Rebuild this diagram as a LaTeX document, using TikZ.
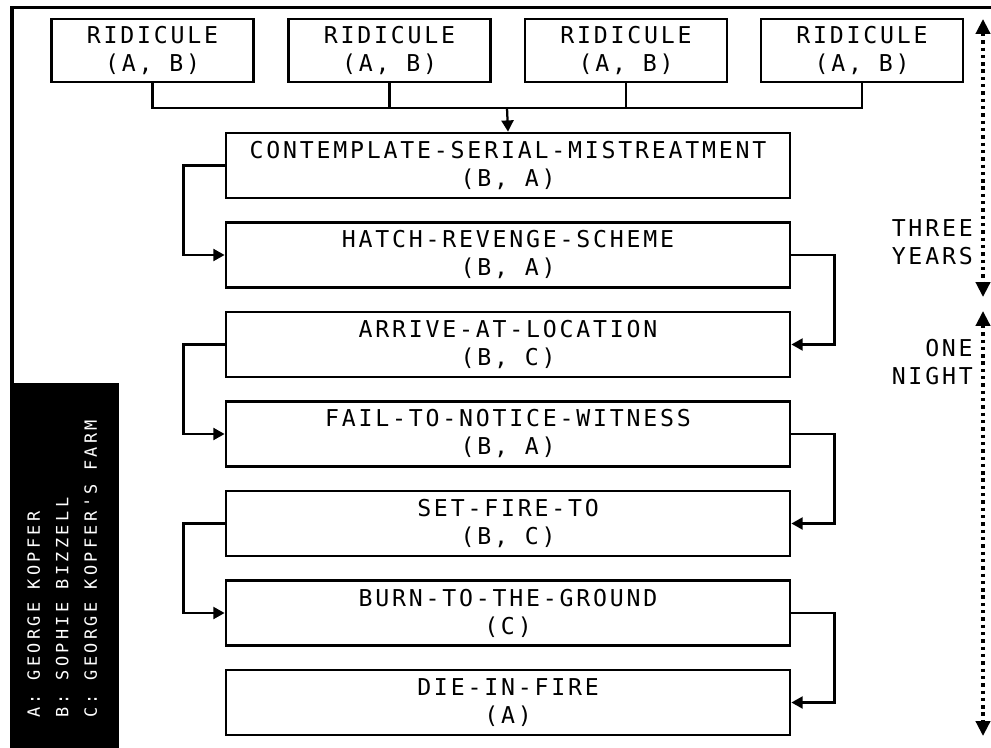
\documentclass[tikz,border=0pt]{standalone}
\usepackage{fontspec}
\newfontfamily\eventfont{DejaVu Sans Mono}[LetterSpace=12.0]
\newfontfamily\keyfont{DejaVu Sans Mono}[LetterSpace=20.0]
\usetikzlibrary{arrows.meta}

\tikzset{
  eventbox/.style={draw, line width=1.9pt, minimum width=14.1cm, minimum height=1.625cm,
    align=center, inner sep=0pt, font=\eventfont\fontsize{16.5}{19.9}\selectfont},
  ridiculebox/.style={eventbox, minimum width=5.05cm, minimum height=1.575cm},
  linkline/.style={line width=1.6pt},
  flowarrow/.style={linkline, -{Triangle[length=8pt,width=8.5pt]}},
  timespan/.style={line width=2.4pt, dash pattern=on 2.4pt off 2.8pt,
    {Triangle[length=10.5pt,width=10pt]}-{Triangle[length=10.5pt,width=10pt]}},
  spanlabel/.style={anchor=east, align=right, inner sep=0pt,
    font=\eventfont\fontsize{16.5}{19.9}\selectfont},
}

\begin{document}
\begin{tikzpicture}[x=0.025cm, y=-0.025cm]
  \useasboundingbox (0,0) rectangle (991,748);
  % frame and key
  \draw[line width=2.4pt] (991,7.5) -- (12,7.5) -- (12,383);
  \fill (10,383) rectangle (119,748);
  \node[rotate=90, anchor=north west, inner sep=0pt, align=left, text=white,
    font=\keyfont\fontsize{12}{20.3}\selectfont] (key) at (27,718)
    {A: GEORGE KOPFER\\B: SOPHIE BIZZELL\\C: GEORGE KOPFER'S FARM};

  % the four insults
  \foreach \i/\x in {1/152.5, 2/389.5, 3/626, 4/862}
    \node[ridiculebox] (rid\i) at (\x,50.5) {RIDICULE\\(A, B)};
  \coordinate (bus) at (507,108);
  \draw[linkline] (rid1.south) |- (bus) -| (rid4.south);
  \draw[linkline] (rid2.south) -- (rid2.south |- bus);
  \draw[linkline] (rid3.south) -- (rid3.south |- bus);

  % chain of events
  \node[eventbox] (contemplate) at (508,165.5) {CONTEMPLATE-SERIAL-MISTREATMENT\\(B, A)};
  \node[eventbox] (hatch) at (508,255) {HATCH-REVENGE-SCHEME\\(B, A)};
  \node[eventbox] (arrive) at (508,344.5) {ARRIVE-AT-LOCATION\\(B, C)};
  \node[eventbox] (fail) at (508,434) {FAIL-TO-NOTICE-WITNESS\\(B, A)};
  \node[eventbox] (setfire) at (508,523.5) {SET-FIRE-TO\\(B, C)};
  \node[eventbox] (burn) at (508,613) {BURN-TO-THE-GROUND\\(C)};
  \node[eventbox] (die) at (508,702.5) {DIE-IN-FIRE\\(A)};

  \draw[flowarrow] (bus) -- (contemplate.north);
  \draw[flowarrow] (contemplate.west) -- ++(-41,0) |- (hatch.west);
  \draw[flowarrow] (hatch.east) -- ++(43,0) |- (arrive.east);
  \draw[flowarrow] (arrive.west) -- ++(-41,0) |- (fail.west);
  \draw[flowarrow] (fail.east) -- ++(43,0) |- (setfire.east);
  \draw[flowarrow] (setfire.west) -- ++(-41,0) |- (burn.west);
  \draw[flowarrow] (burn.east) -- ++(43,0) |- (die.east);

  % time spans
  \coordinate (yearsTop) at (983,19);
  \coordinate (yearsEnd) at (983,297);
  \coordinate (nightTop) at (983,311);
  \coordinate (nightEnd) at (983,736);
  \draw[timespan] (yearsTop) -- (yearsEnd);
  \draw[timespan] (nightTop) -- (nightEnd);
  \node[spanlabel] (years) at (973,242) {THREE\\YEARS};
  \node[spanlabel] (night) at (973,362) {ONE\\NIGHT};
\end{tikzpicture}
\end{document}
